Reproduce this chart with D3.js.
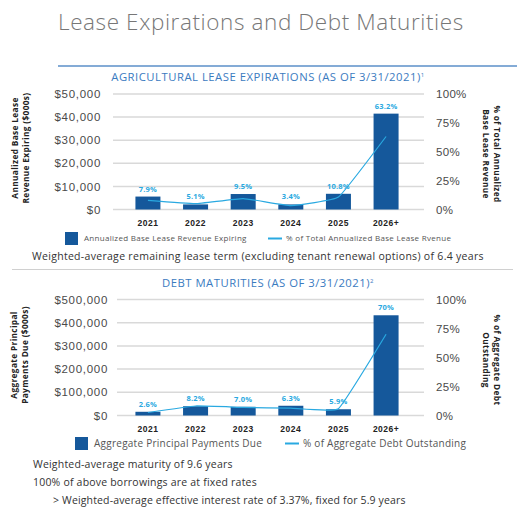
<!DOCTYPE html>
<html>
<head>
<meta charset="utf-8">
<script src="https://cdn.jsdelivr.net/npm/d3@7"></script>
<style>
  html, body { margin: 0; padding: 0; background: #fff; }
  svg { display: block; font-family: 'Open Sans', 'Noto Sans', sans-serif; }
  .grid line { stroke: #d9d9d9; stroke-width: 1.5; }
  .tick-left { fill: #4a4a4a; font-size: 11.5px; letter-spacing: 0.7px; }
  .tick-right { fill: #4a4a4a; font-size: 11.5px; letter-spacing: 0.3px; }
  .cat { fill: #222; font-size: 8.5px; font-weight: 700; letter-spacing: 0.5px; }
  .pct-label { fill: #29a9e1; font-size: 7.5px; font-weight: 700; text-anchor: middle; letter-spacing: 0.2px; }
  .axis-title { fill: #222; font-size: 8.3px; font-weight: 700; letter-spacing: 0.35px; }
  .subtitle { fill: #3b7bbf; font-size: 11.3px; text-anchor: middle; letter-spacing: 0.5px; }
  .note { fill: #333; }
  .legend-text { fill: #555; }
</style>
</head>
<body>
<svg id="chart" width="517" height="511"></svg>
<script>
// ---- data ----
const years = ['2021', '2022', '2023', '2024', '2025', '2026+'];

// agricultural lease expirations ($000s) and share of total annualized base lease revenue (%)
const leaseRevenue = [5600, 2200, 6700, 2200, 6800, 41500];
const leasePct = [7.9, 5.1, 9.5, 3.4, 10.8, 63.2];
const leaseTicks = [0, 10000, 20000, 30000, 40000, 50000];

// debt maturities ($000s) and share of aggregate debt outstanding (%)
const debtPayments = [16000, 40000, 37500, 42000, 27000, 432000];
const debtPct = [2.6, 8.2, 7.0, 6.3, 5.9, 70];
const debtPctLabels = ['2.6%', '8.2%', '7.0%', '6.3%', '5.9%', '70%'];
const debtTicks = [0, 100000, 200000, 300000, 400000, 500000];

const pctTicks = [0, 25, 50, 75, 100];

const BAR_COLOR = '#15589b';
const LINE_COLOR = '#29a9e1';

const $svg = d3.select('#chart');
const money = d3.format('$,');

// ---- header ----
$svg.append('text')
  .attr('x', 58).attr('y', 30)
  .attr('fill', '#777')
  .style('font-size', '22.5px')
  .style('font-weight', 300)
  .style('letter-spacing', '0.6px')
  .text('Lease Expirations and Debt Maturities');

$svg.append('line')
  .attr('x1', 58).attr('x2', 517).attr('y1', 66).attr('y2', 66)
  .attr('stroke', '#5b8fc8').attr('stroke-width', 1.5);

$svg.append('line')
  .attr('x1', 12).attr('x2', 513).attr('y1', 269.5).attr('y2', 269.5)
  .attr('stroke', '#d0d0d0').attr('stroke-width', 1);

function drawPanel(opts) {
  const $g = $svg.append('g');

  // scales
  const x = d3.scaleBand().domain(years).range([124, 410]).paddingInner(0.475).paddingOuter(0.24);
  const y = d3.scaleLinear().domain([0, d3.max(opts.ticks)]).range([opts.bottom, opts.top]);
  const yPct = d3.scaleLinear().domain([0, 100]).range([opts.bottom, opts.top]);

  // subtitle
  const $sub = $g.append('text').attr('class', 'subtitle')
    .attr('x', 268).attr('y', opts.subtitleY);
  $sub.append('tspan').text(opts.subtitle);
  $sub.append('tspan').attr('dy', -4).style('font-size', '6px').text(opts.sup);

  // gridlines
  $g.append('g').attr('class', 'grid')
    .selectAll('line')
    .data(opts.ticks)
    .join('line')
    .attr('x1', opts.gridLeft).attr('x2', 424)
    .attr('y1', (d) => y(d)).attr('y2', (d) => y(d));

  // left axis
  $g.append('g')
    .attr('transform', `translate(${opts.tickRight},0)`)
    .call(d3.axisLeft(y).tickValues(opts.ticks).tickSize(0).tickPadding(0).tickFormat(money))
    .call((g) => g.select('.domain').remove())
    .call((g) => g.selectAll('.tick text').attr('class', 'tick-left')
      .attr('fill', null).style('font-family', null).style('font-size', null));

  // right axis
  $g.append('g')
    .attr('transform', 'translate(436,0)')
    .call(d3.axisRight(yPct).tickValues(pctTicks).tickSize(0).tickPadding(0).tickFormat((d) => `${d}%`))
    .call((g) => g.select('.domain').remove())
    .call((g) => g.selectAll('.tick text').attr('class', 'tick-right').attr('fill', null));

  // categories
  $g.append('g')
    .attr('transform', `translate(0,${opts.bottom + 16})`)
    .call(d3.axisBottom(x).tickSize(0).tickPadding(0))
    .call((g) => g.select('.domain').remove())
    .call((g) => g.selectAll('.tick text').attr('class', 'cat').attr('fill', null).attr('dy', 0));

  // bars
  $g.append('g')
    .selectAll('rect')
    .data(opts.values)
    .join('rect')
    .attr('x', (d, i) => x(years[i]))
    .attr('width', x.bandwidth())
    .attr('y', (d) => y(d))
    .attr('height', (d) => y(0) - y(d))
    .attr('fill', BAR_COLOR);

  // percent line (only lightly smoothed)
  const line = d3.line()
    .x((d, i) => x(years[i]) + x.bandwidth() / 2)
    .y((d) => yPct(d))
    .curve(d3.curveCardinal.tension(0.7));

  $g.append('path')
    .datum(opts.pct)
    .attr('d', line)
    .attr('fill', 'none')
    .attr('stroke', LINE_COLOR)
    .attr('stroke-width', 1.2);

  // labels above bars
  $g.append('g')
    .selectAll('text')
    .data(opts.labels)
    .join('text')
    .attr('class', 'pct-label')
    .attr('x', (d, i) => x(years[i]) + x.bandwidth() / 2)
    .attr('y', (d, i) => y(opts.values[i]) - 5)
    .text((d) => d);

  // axis titles
  const leftT = $g.append('text').attr('class', 'axis-title')
    .attr('transform', `translate(${opts.leftTitleX},${opts.leftTitleY}) rotate(-90)`)
    .attr('text-anchor', 'middle');
  opts.leftTitle.forEach((t, i) => {
    leftT.append('tspan').attr('x', 0).attr('dy', i ? 11 : 0).text(t);
  });

  const rightT = $g.append('text').attr('class', 'axis-title')
    .attr('transform', `translate(${opts.rightTitleX},${opts.rightTitleY}) rotate(90)`)
    .attr('text-anchor', 'middle');
  opts.rightTitle.forEach((t, i) => {
    rightT.append('tspan').attr('x', 0).attr('dy', i ? 11 : 0).text(t);
  });

  // legend
  const lg = opts.legend;
  $g.append('rect')
    .attr('x', lg.boxX).attr('y', lg.y - lg.box / 2)
    .attr('width', lg.box).attr('height', lg.box)
    .attr('fill', BAR_COLOR);
  $g.append('text').attr('class', 'legend-text')
    .attr('x', lg.boxX + lg.box + 6).attr('y', lg.y)
    .attr('dy', '0.35em')
    .style('font-size', `${lg.size}px`)
    .style('letter-spacing', `${lg.spacing}px`)
    .text(lg.barText);
  $g.append('line')
    .attr('x1', lg.lineX).attr('x2', lg.lineX + 14)
    .attr('y1', lg.y).attr('y2', lg.y)
    .attr('stroke', LINE_COLOR).attr('stroke-width', 2);
  $g.append('text').attr('class', 'legend-text')
    .attr('x', lg.lineX + 18).attr('y', lg.y)
    .attr('dy', '0.35em')
    .style('font-size', `${lg.size}px`)
    .style('letter-spacing', `${lg.spacing}px`)
    .text(lg.lineText);

  // notes
  opts.notes.forEach((n) => {
    $g.append('text').attr('class', 'note')
      .attr('x', n.x).attr('y', n.y).attr('dy', '0.35em')
      .style('font-size', `${n.size}px`)
      .style('letter-spacing', `${n.spacing}px`)
      .text(n.text);
  });
}

drawPanel({
  subtitle: 'AGRICULTURAL LEASE EXPIRATIONS (AS OF 3/31/2021)',
  sup: '1',
  subtitleY: 81,
  top: 94,
  bottom: 209.5,
  gridLeft: 113,
  tickRight: 101,
  ticks: leaseTicks,
  values: leaseRevenue,
  pct: leasePct,
  labels: leasePct.map((d) => `${d}%`),
  leftTitle: ['Annualized Base Lease', 'Revenue Expiring ($000s)'],
  leftTitleX: 18,
  leftTitleY: 148,
  rightTitle: ['% of Total Annualized', 'Base Lease Revenue'],
  rightTitleX: 494,
  rightTitleY: 154,
  legend: {
    boxX: 65, box: 13, y: 238.5, size: 8, spacing: 0.3,
    barText: 'Annualized Base Lease Revenue Expiring',
    lineX: 268,
    lineText: '% of Total Annualized Base Lease Rvenue',
  },
  notes: [
    { x: 32, y: 256, size: 10.5, spacing: 0.3, text: 'Weighted-average remaining lease term (excluding tenant renewal options) of 6.4 years' },
  ],
});

drawPanel({
  subtitle: 'DEBT MATURITIES (AS OF 3/31/2021)',
  sup: '2',
  subtitleY: 287,
  top: 299.5,
  bottom: 415.5,
  gridLeft: 117,
  tickRight: 108,
  ticks: debtTicks,
  values: debtPayments,
  pct: debtPct,
  labels: debtPctLabels,
  leftTitle: ['Aggregate Principal', 'Payments Due ($000s)'],
  leftTitleX: 17,
  leftTitleY: 355,
  rightTitle: ['% of Aggregate  Debt', 'Outstanding'],
  rightTitleX: 494,
  rightTitleY: 360,
  legend: {
    boxX: 75, box: 13, y: 443.5, size: 10, spacing: 0.25,
    barText: 'Aggregate Principal Payments Due',
    lineX: 285,
    lineText: '% of Aggregate Debt Outstanding',
  },
  notes: [
    { x: 33, y: 464, size: 10.5, spacing: 0.2, text: 'Weighted-average maturity of 9.6 years' },
    { x: 33, y: 482, size: 10.5, spacing: 0.2, text: '100% of above borrowings are at fixed rates' },
    { x: 53, y: 500, size: 10.5, spacing: 0.15, text: '> Weighted-average effective interest rate of 3.37%, fixed for 5.9 years' },
  ],
});
</script>
</body>
</html>
